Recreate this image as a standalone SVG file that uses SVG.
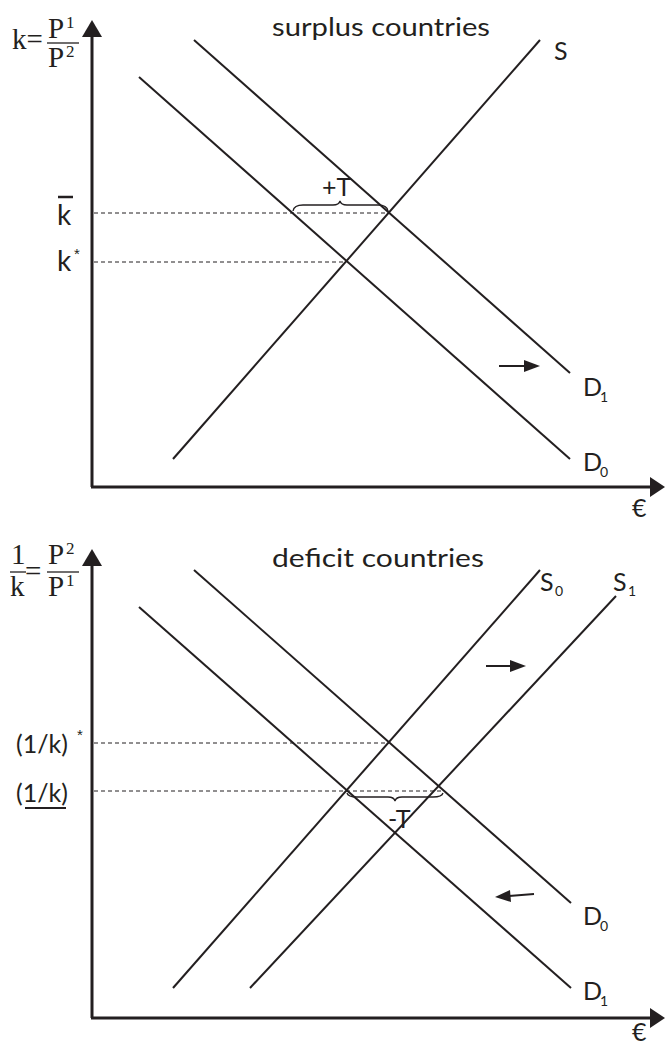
<svg xmlns="http://www.w3.org/2000/svg" width="665" height="1045" viewBox="0 0 665 1045">
<defs>
<style>
.ax{stroke:#231f20;stroke-width:3;fill:none}
.ln{stroke:#231f20;stroke-width:2;fill:none}
.ds{stroke:#231f20;stroke-width:1;stroke-dasharray:4,3;fill:none}
.br{stroke:#231f20;stroke-width:1.3;fill:none}
.t{font-family:Lato,"Open Sans","Liberation Sans",sans-serif;fill:#231f20;font-size:25px}
.tk{font-family:Lato,"Open Sans","Liberation Sans",sans-serif;fill:#231f20;font-size:28px}
.sub{font-family:Lato,"Open Sans","Liberation Sans",sans-serif;fill:#231f20;font-size:14px}
.st{font-family:"Liberation Sans",Arial,sans-serif;fill:#231f20;font-size:15px}
.sf{font-family:"Liberation Serif","Times New Roman",serif;fill:#231f20;font-size:29px}
.sfs{font-family:"Liberation Serif","Times New Roman",serif;fill:#231f20;font-size:17px}
.ar{fill:#231f20}
</style>
</defs>

<g id="top-chart">
<g id="top-axes">
<line class="ax" x1="92" y1="487" x2="92" y2="34"/>
<path class="ar" d="M92,20 L82,37 L102,37 z"/>
<line class="ax" x1="91" y1="487" x2="652" y2="487"/>
<path class="ar" d="M665,487 L650,477 L650,497 z"/>
</g>
<g id="top-labels">
<text class="sf" x="12" y="49">k=</text>
<text class="sf" x="48" y="38">P</text>
<text class="sfs" x="66" y="28">1</text>
<line x1="47" y1="43" x2="79" y2="43" stroke="#231f20" stroke-width="1.3"/>
<text class="sf" x="48" y="67">P</text>
<text class="sfs" x="66" y="57">2</text>
<line x1="58" y1="197" x2="73" y2="197" stroke="#231f20" stroke-width="2.5"/>
<text class="tk" x="57" y="225">k</text>
<text class="tk" x="57" y="271">k</text>
<text class="st" x="74" y="259">*</text>
<text class="t" x="272" y="36" textLength="218" lengthAdjust="spacingAndGlyphs">surplus countries</text>
<text class="t" x="554" y="60">S</text>
<text class="t" x="583" y="396">D</text>
<text class="sub" x="600" y="402">1</text>
<text class="t" x="583" y="471">D</text>
<text class="sub" x="600" y="477">0</text>
<text class="t" x="632" y="517">€</text>
<text class="t" x="322" y="196">+T</text>
</g>
<g id="top-curves">
<line class="ln" x1="173" y1="459" x2="540" y2="40"/>
<line class="ln" x1="139" y1="77" x2="570" y2="459"/>
<line class="ln" x1="194" y1="40" x2="570" y2="373"/>
</g>
<g id="top-guides">
<line class="ds" x1="94" y1="213" x2="389" y2="213"/>
<line class="ds" x1="94" y1="262" x2="346" y2="262"/>
<path class="br" d="M293,211 Q294,205 303,205 L333,205 Q339,205 340,201 Q341,205 347,205 L378,205 Q387,205 388,211"/>
</g>
<g id="top-arrow">
<line x1="499" y1="366" x2="527" y2="366" stroke="#231f20" stroke-width="2"/>
<path class="ar" d="M540,366 L524,360 L524,372 z"/>
</g>
</g>

<g id="bottom-chart">
<g id="bottom-axes">
<line class="ax" x1="92" y1="1018" x2="92" y2="563"/>
<path class="ar" d="M92,549 L82,566 L102,566 z"/>
<line class="ax" x1="91" y1="1018" x2="652" y2="1018"/>
<path class="ar" d="M665,1018 L650,1008 L650,1028 z"/>
</g>
<g id="bottom-labels">
<text class="sf" x="11" y="564">1</text>
<line x1="10" y1="572" x2="26" y2="572" stroke="#231f20" stroke-width="1.3"/>
<text class="sf" x="10" y="596">k</text>
<text class="sf" x="25" y="581">=</text>
<text class="sf" x="48" y="564">P</text>
<text class="sfs" x="66" y="554">2</text>
<line x1="47" y1="572" x2="79" y2="572" stroke="#231f20" stroke-width="1.3"/>
<text class="sf" x="48" y="596">P</text>
<text class="sfs" x="66" y="586">1</text>
<text class="t" x="16" y="753">(1/k)</text>
<text class="st" x="77" y="740">*</text>
<text class="t" x="16" y="802">(1/k)</text>
<line x1="25" y1="808" x2="66" y2="808" stroke="#231f20" stroke-width="2"/>
<text class="t" x="272" y="567" textLength="212" lengthAdjust="spacingAndGlyphs">deficit countries</text>
<text class="t" x="540" y="591">S</text>
<text class="sub" x="555" y="596">0</text>
<text class="t" x="613" y="591">S</text>
<text class="sub" x="628" y="596">1</text>
<text class="t" x="583" y="925">D</text>
<text class="sub" x="600" y="931">0</text>
<text class="t" x="583" y="1000">D</text>
<text class="sub" x="600" y="1006">1</text>
<text class="t" x="632" y="1041">€</text>
<text class="t" x="388" y="828">-T</text>
</g>
<g id="bottom-curves">
<line class="ln" x1="173" y1="988" x2="540" y2="570"/>
<line class="ln" x1="250" y1="988" x2="616" y2="596"/>
<line class="ln" x1="139" y1="607" x2="571" y2="988"/>
<line class="ln" x1="194" y1="570" x2="571" y2="903"/>
</g>
<g id="bottom-guides">
<line class="ds" x1="94" y1="743" x2="389" y2="743"/>
<line class="ds" x1="94" y1="791" x2="443" y2="791"/>
<path class="br" d="M347,793 Q348,797 357,797 L388,797 Q394,797 395,801 Q396,797 402,797 L433,797 Q442,797 443,793"/>
</g>
<g id="bottom-arrows">
<line x1="486" y1="666" x2="513" y2="666" stroke="#231f20" stroke-width="2"/>
<path class="ar" d="M526,666 L510,660 L510,672 z"/>
<line x1="534" y1="894" x2="509" y2="896" stroke="#231f20" stroke-width="2"/>
<path class="ar" d="M495,897 L510,890 L511,902 z"/>
</g>
</g>
</svg>
